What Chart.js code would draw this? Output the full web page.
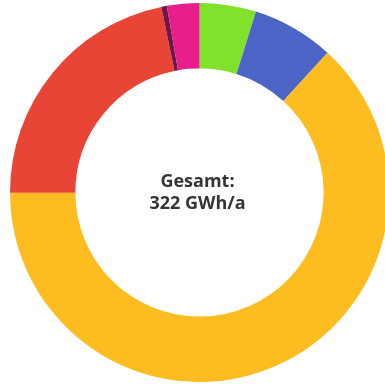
<!DOCTYPE html>
<html lang="de">
<head>
<meta charset="utf-8">
<title>Energiebedarf</title>
<script src="https://cdn.jsdelivr.net/npm/chart.js@4/dist/chart.umd.min.js"></script>
<style>
    html, body { margin: 0; padding: 0; background: #fff; overflow: hidden; }
    body { width: 385px; height: 384px; position: relative; }
    #wrap { position: absolute; left: 10px; top: 3px; width: 379px; height: 379px; }
</style>
</head>
<body>
<div id="wrap"><canvas id="energyChart"></canvas></div>
<script>
// Anteile am Gesamtbedarf in GWh/a
const labels = ['Grün', 'Blau', 'Gelb', 'Rot', 'Violett', 'Pink'];
const values = [15.5, 22.5, 203.4, 70.2, 1.5, 8.9];
const colors = ['#80e22a', '#4b64c6', '#fdbd21', '#e94536', '#6e1747', '#e81f8b'];
const centerLines = ['Gesamt:', '322 GWh/a'];

// Text in the middle of the ring
const centerText = {
    id: 'centerText',
    afterDraw(chart) {
        const { ctx } = chart;
        const arc = chart.getDatasetMeta(0).data[0];
        const x = arc.x - 2;
        const y = arc.y;
        ctx.save();
        ctx.fillStyle = '#353535';
        ctx.textAlign = 'center';
        ctx.textBaseline = 'middle';
        ctx.font = "700 18px 'Open Sans', sans-serif";
        ctx.fillText(centerLines[0], x, y - 11);
        ctx.fillText(centerLines[1], x, y + 11);
        ctx.restore();
    }
};

new Chart(document.getElementById('energyChart'), {
    type: 'doughnut',
    data: {
        labels: labels,
        datasets: [{ data: values, backgroundColor: colors, borderWidth: 0 }]
    },
    options: {
        responsive: true,
        maintainAspectRatio: false,
        animation: false,
        cutout: '65.5%',
        layout: { padding: 0 },
        plugins: { legend: { display: false }, tooltip: { enabled: false } }
    },
    plugins: [centerText]
});
</script>
</body>
</html>
